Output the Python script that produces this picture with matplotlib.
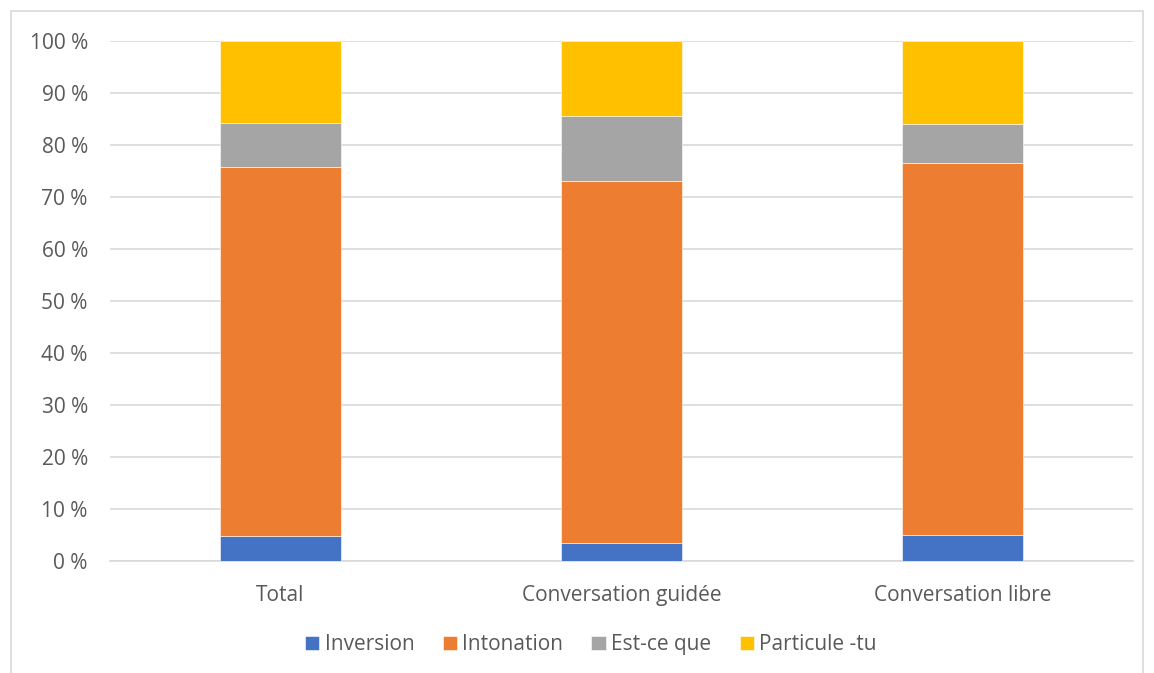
import matplotlib.pyplot as plt
from matplotlib.patches import Rectangle
from matplotlib.ticker import FuncFormatter

plt.rcParams['font.family'] = ['Open Sans', 'DejaVu Sans']

categories = ['Total', 'Conversation guidée', 'Conversation libre']
inversion = [4.75, 3.5, 5.0]
intonation = [71.05, 69.6, 71.5]
est_ce_que = [8.5, 12.5, 7.5]
particule_tu = [15.7, 14.4, 16.0]

series = [
    ('Inversion', inversion, '#4472C4'),
    ('Intonation', intonation, '#ED7D31'),
    ('Est-ce que', est_ce_que, '#A5A5A5'),
    ('Particule -tu', particule_tu, '#FFC000'),
]

text_color = '#595959'
grid_color = '#D9D9D9'
fs = 15

fig = plt.figure(figsize=(11.54, 6.73), dpi=100)
ax = fig.add_axes([0.0953, 0.1664, 0.8865, 0.7726])

x = range(len(categories))
bottom = [0.0] * len(categories)
for name, vals, color in series:
    ax.bar(x, vals, bottom=bottom, width=0.355, color=color, label=name,
           edgecolor='white', linewidth=0.4, zorder=3)
    bottom = [b + v for b, v in zip(bottom, vals)]

ax.set_xlim(-0.5, len(categories) - 0.5)
ax.set_ylim(0, 100)
ax.set_yticks(range(0, 101, 10))
ax.yaxis.set_major_formatter(FuncFormatter(lambda v, p: f'{int(v)} %'))
ax.set_xticks(list(x))
ax.set_xticklabels(categories)

ax.grid(axis='y', color=grid_color, linewidth=1.2, zorder=0)
for side in ['top', 'right', 'left']:
    ax.spines[side].set_visible(False)
ax.spines['bottom'].set_color(grid_color)
ax.spines['bottom'].set_linewidth(1.2)
ax.tick_params(axis='both', length=0, labelsize=fs, labelcolor=text_color)
ax.tick_params(axis='y', pad=16)
ax.tick_params(axis='x', pad=17)

ax.legend(loc='center', bbox_to_anchor=(0.512, 0.042), bbox_transform=fig.transFigure,
          ncol=4, frameon=False, fontsize=fs, labelcolor=text_color,
          handlelength=0.7, handleheight=0.7, handletextpad=0.25, columnspacing=1.35)

# light chart frame
fig.patches.append(Rectangle((11 / 1154, -0.01), 1132 / 1154, 1 - 11 / 673 + 0.01,
                             transform=fig.transFigure, fill=False,
                             edgecolor=grid_color, linewidth=1.2))

fig.savefig('out.png', dpi=100)
